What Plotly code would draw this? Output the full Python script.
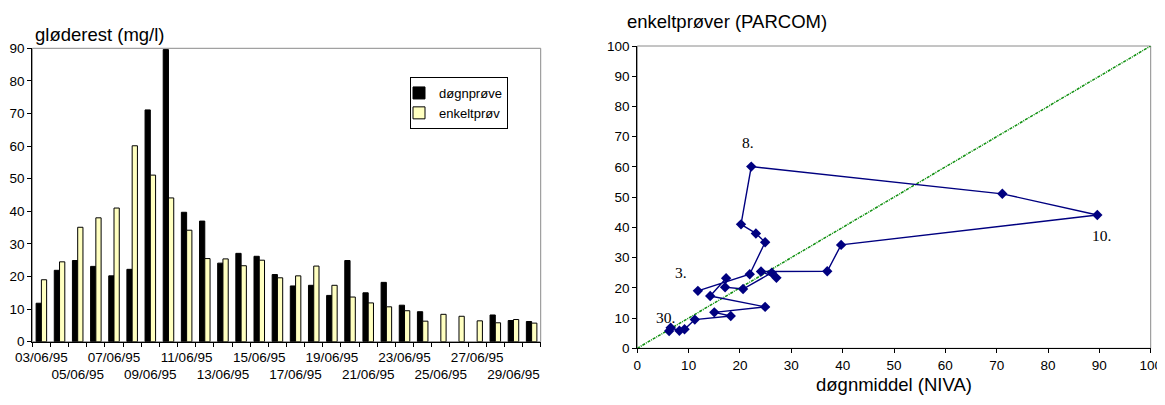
import plotly.graph_objects as go

# daily values, 03/06/95 - 30/06/95
dates = ["03/06/95", "04/06/95", "05/06/95", "06/06/95", "07/06/95", "08/06/95", "09/06/95",
         "10/06/95", "11/06/95", "12/06/95", "13/06/95", "14/06/95", "15/06/95", "16/06/95",
         "17/06/95", "18/06/95", "19/06/95", "20/06/95", "21/06/95", "22/06/95", "23/06/95",
         "24/06/95", "25/06/95", "26/06/95", "27/06/95", "28/06/95", "29/06/95", "30/06/95"]

dognprove = [11.8, 21.9, 24.9, 23.1, 20.2, 22.2, 71.1, 89.6, 39.7, 37.0, 24.1, 27.1, 26.2, 20.6,
             17.1, 17.3, 14.2, 24.9, 15.0, 18.2, 11.2, 9.2, None, None, None, 8.2, 6.5, 6.2]
enkeltprove = [19.0, 24.5, 35.1, 38.0, 41.0, 60.1, 51.1, 44.1, 34.2, 25.5, 25.4, 23.3, 25.0, 19.6,
               20.2, 23.2, 17.3, 13.7, 11.9, 10.7, 9.5, 6.3, 8.4, 7.8, 6.4, 5.8, 6.8, 5.7]

diag = [0, 100]

# day labels in the scatter (index into the lists above)
labelled_days = {0: "3.", 5: "8.", 7: "10.", 27: "30."}

FONT = "Liberation Sans, Arial, sans-serif"
SERIF = "Liberation Serif, Times New Roman, serif"

# page body adds an 8px margin, so the figure sits at (8, 8) in the window
W, H, OFF = 1157, 397, 8


def px(x):
    return (x - OFF) / W


def py(y):
    return 1 - (y - OFF) / H


# two-row tick labels on the bar chart: every other day, alternating rows
tick_text = []
for i, d in enumerate(dates):
    if i % 4 == 0:
        tick_text.append(d)
    elif i % 2 == 0:
        tick_text.append("<br>" + d)
    else:
        tick_text.append("")

fig = go.Figure()

fig.add_trace(go.Bar(
    x=dates, y=dognprove, name="døgnprøve",
    marker=dict(color="black", line=dict(color="black", width=1)),
    xaxis="x", yaxis="y"))
fig.add_trace(go.Bar(
    x=dates, y=enkeltprove, name="enkeltprøv",
    marker=dict(color="#FFFFC0", line=dict(color="black", width=1)),
    xaxis="x", yaxis="y"))

fig.add_trace(go.Scatter(
    x=diag, y=diag, mode="lines", showlegend=False,
    line=dict(color="#109010", width=1.5, dash="3px,1px,1px,1px"),
    xaxis="x2", yaxis="y2"))
fig.add_trace(go.Scatter(
    x=dognprove, y=enkeltprove, mode="lines+markers", showlegend=False, connectgaps=True,
    line=dict(color="#000080", width=1.4),
    marker=dict(symbol="diamond", size=8, color="#000080"),
    xaxis="x2", yaxis="y2"))

offsets = {0: (-17, 18), 5: (-3, 24), 7: (4, -21), 27: (-4, 14)}
for i, txt in labelled_days.items():
    dx, dy = offsets[i]
    fig.add_annotation(x=dognprove[i], y=enkeltprove[i], xref="x2", yref="y2",
                       text=txt, showarrow=False, xshift=dx, yshift=dy,
                       font=dict(family=SERIF, size=15.5, color="black"))

fig.add_annotation(x=px(33), y=py(34), xref="paper", yref="paper",
                   xanchor="left", yanchor="middle", showarrow=False,
                   text="gløderest (mg/l)", font=dict(family=FONT, size=18.5, color="black"))
fig.add_annotation(x=px(727), y=py(21), xref="paper", yref="paper",
                   xanchor="center", yanchor="middle", showarrow=False,
                   text="enkeltprøver (PARCOM)", font=dict(family=FONT, size=18.5, color="black"))

# grey top/right frame lines
for xr, yr in (("x domain", "y domain"), ("x2 domain", "y2 domain")):
    fig.add_shape(type="rect", xref=xr, yref=yr, x0=0, x1=1, y0=0, y1=1,
                  line=dict(color="#8a8a8a", width=1), layer="below")

axis_common = dict(showgrid=False, zeroline=False, showline=True, linecolor="black",
                   linewidth=1, ticks="outside", tickcolor="black", ticklen=4,
                   automargin=False, tickangle=0,
                   tickfont=dict(family=FONT, size=13.5, color="black"))

fig.update_layout(
    width=W, height=H,
    margin=dict(l=0, r=0, t=0, b=0),
    paper_bgcolor="white", plot_bgcolor="white",
    barmode="group", bargap=0.42, bargroupgap=0,
    font=dict(family=FONT, color="black"),
    xaxis=dict(domain=[px(32.3), px(540.7)], anchor="y", type="category",
               tickmode="array", tickvals=dates, ticktext=tick_text,
               tickson="boundaries", ticklabelstandoff=3, **axis_common),
    yaxis=dict(domain=[py(341.7), py(48.3)], anchor="x",
               range=[0, 90], dtick=10, **axis_common),
    xaxis2=dict(domain=[px(637.3), px(1150.7)], anchor="y2",
                range=[0, 100], dtick=10,
                title=dict(text="døgnmiddel (NIVA)", standoff=6,
                           font=dict(family=FONT, size=18.5, color="black")),
                **axis_common),
    yaxis2=dict(domain=[py(348.3), py(46)], anchor="x2",
                range=[0, 100], dtick=10, **axis_common),
    legend=dict(x=px(508), y=py(77), xanchor="right", yanchor="top",
                bgcolor="white", bordercolor="black", borderwidth=1,
                font=dict(family=FONT, size=13, color="black"),
                itemwidth=30, indentation=-12, tracegroupgap=0),
)

fig.write_html("out.html")
